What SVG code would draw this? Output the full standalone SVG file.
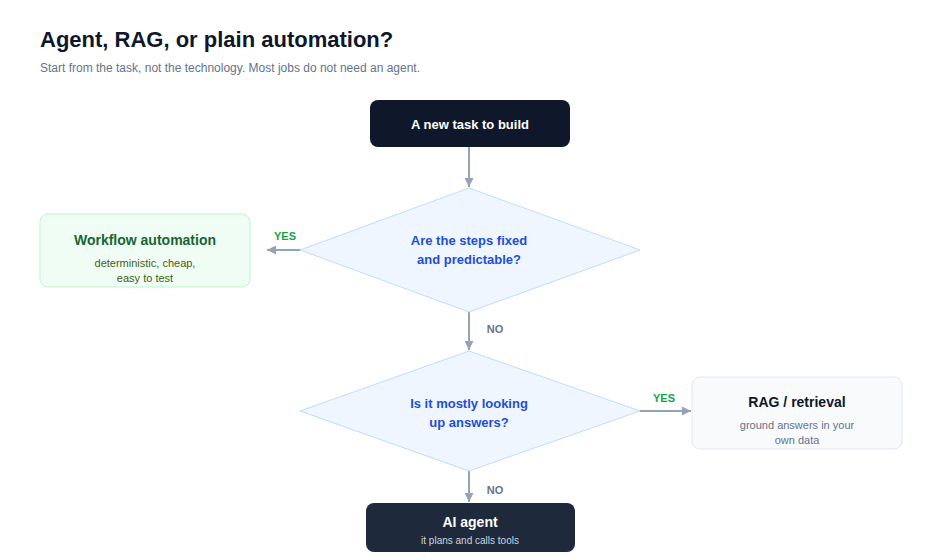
<svg xmlns="http://www.w3.org/2000/svg" width="940" height="560" viewBox="0 0 940 560">
<style>
text{font-family:"Liberation Sans",Arial,sans-serif}
.c{stroke:#94a3b8;stroke-width:2;fill:none}
.dia{fill:#eff6ff;stroke:#bfdbfe;stroke-width:1}
.q{fill:#1d4ed8;font-size:13px;font-weight:bold;text-anchor:middle}
.yes{fill:#16a34a;font-size:11px;font-weight:bold;text-anchor:middle}
.no{fill:#64748b;font-size:11px;font-weight:bold;text-anchor:middle}
</style>
<defs><marker id="a" viewBox="0 0 10 10" refX="10" refY="5" markerWidth="9" markerHeight="9" markerUnits="userSpaceOnUse" orient="auto"><path d="M0,0L10,5L0,10z" fill="#94a3b8"/></marker>
</defs>
<rect width="940" height="560" fill="#fff"/>
<text x="40" y="47" font-size="22" font-weight="bold" fill="#0f172a">Agent, RAG, or plain automation?</text>
<text x="40" y="72" font-size="12" fill="#64748b">Start from the task, not the technology. Most jobs do not need an agent.</text>
<g id="connectors">
<path class="c" d="M469,147V187" marker-end="url(#a)" markerWidth="16"/>
<path class="c" d="M300,250H267" marker-end="url(#a)"/>
<path class="c" d="M469,312V350" marker-end="url(#a)"/>
<path class="c" d="M640,411H691" marker-end="url(#a)"/>
<path class="c" d="M469,471V502" marker-end="url(#a)"/>
<text class="yes" x="285" y="240">YES</text>
<text class="no" x="495" y="333">NO</text>
<text class="yes" x="664" y="402">YES</text>
<text class="no" x="495" y="494">NO</text>
</g>
<g id="start"><rect x="370" y="100" width="200" height="47" rx="8" fill="#0f172a"/>
<text x="470" y="129" font-size="13" font-weight="bold" fill="#fff" text-anchor="middle">A new task to build</text></g>
<g id="q1"><polygon class="dia" points="469,188 640,250 469,312 300,250"/>
<text class="q" x="469" y="245">Are the steps fixed</text><text class="q" x="469" y="264">and predictable?</text></g>
<g id="workflow"><rect x="40" y="214" width="210" height="73" rx="8" fill="#f0fdf4" stroke="#bbf7d0"/>
<text x="145" y="245" font-size="14" font-weight="bold" fill="#166534" text-anchor="middle">Workflow automation</text>
<text x="145" y="267" font-size="11" fill="#3f6212" text-anchor="middle">deterministic, cheap,</text>
<text x="145" y="282" font-size="11" fill="#3f6212" text-anchor="middle">easy to test</text></g>
<g id="q2"><polygon class="dia" points="469,351 640,411 469,471 300,411"/>
<text class="q" x="469" y="408">Is it mostly looking</text><text class="q" x="469" y="427">up answers?</text></g>
<g id="rag"><rect x="692" y="377" width="210" height="72" rx="8" fill="#f8fafc" stroke="#e2e8f0"/>
<text x="797" y="407" font-size="14" font-weight="bold" fill="#0f172a" text-anchor="middle">RAG / retrieval</text>
<text x="797" y="429" font-size="11" fill="#64748b" text-anchor="middle">ground answers in your</text>
<text x="797" y="444" font-size="11" fill="#64748b" text-anchor="middle">own data</text></g>
<g id="agent"><rect x="366" y="503" width="209" height="49" rx="8" fill="#1e293b"/>
<text x="470" y="527" font-size="14" font-weight="bold" fill="#fff" text-anchor="middle">AI agent</text>
<text x="470" y="544" font-size="10" fill="#cbd5e1" text-anchor="middle">it plans and calls tools</text></g>
</svg>
